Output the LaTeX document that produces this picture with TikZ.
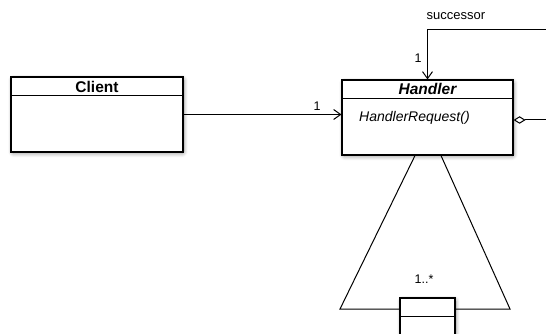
\documentclass[tikz,border=0pt]{standalone}
\usepackage{fontspec}
\setmainfont{Liberation Sans}
\usetikzlibrary{arrows.meta,calc,shadows.blur}

\tikzset{
  umlshadow/.style={blur shadow={shadow xshift=1pt, shadow yshift=-1.5pt,
      shadow blur steps=8, shadow blur extra rounding=2pt, shadow blur radius=4pt,
      shadow opacity=40}},
  classbox/.style={draw=black, line width=1.1pt, fill=white, rectangle,
      inner sep=0pt, umlshadow},
  classname/.style={font=\fontsize{15.5}{18}\selectfont\bfseries, inner sep=0pt},
  opname/.style={font=\fontsize{14}{16}\selectfont\itshape, inner sep=0pt, anchor=west},
  mult/.style={font=\fontsize{12.5}{14}\selectfont, inner sep=0pt},
  assoc/.style={draw=black, line width=1pt, -{Straight Barb[length=7pt, width=10pt, line width=1pt]}},
  link/.style={draw=black, line width=1pt},
  aggregate/.style={draw=black, line width=1pt, {Diamond[open, length=12pt, width=7.5pt, line width=1pt]}-},
}

\begin{document}
\begin{tikzpicture}[x=1pt, y=-1pt]
  \useasboundingbox (0,0) rectangle (546,334);
  \clip (0,0) rectangle (546,334);

  % Client class
  \node[classbox, minimum width=172pt, minimum height=75pt] (client) at (97,114.5) {};
  \draw[line width=1.1pt] ($(client.north west)+(0,19)$) -- ($(client.north east)+(0,19)$);
  \node[classname] (clientname) at (97,87) {Client};

  % Handler class (abstract)
  \node[classbox, minimum width=171pt, minimum height=75pt] (handler) at (427.5,117.5) {};
  \draw[line width=1.1pt] ($(handler.north west)+(0,19)$) -- ($(handler.north east)+(0,19)$);
  \node[classname, font=\fontsize{15.5}{18}\selectfont\bfseries\itshape] (handlername) at (427.5,89) {Handler};
  \node[opname] (handlerop) at (359,118) {HandlerRequest()};

  % Concrete handler (cut by the lower edge)
  \node[classbox, minimum width=55pt, minimum height=40pt] (leaf) at (427.5,318) {};
  \draw[line width=1.1pt] ($(leaf.north west)+(0,19)$) -- ($(leaf.north east)+(0,19)$);

  % Client -> Handler association
  \draw[assoc] (client.east) -- (client.east -| handler.west);
  \node[mult] (m1) at (317,106.5) {1};

  % successor self-association
  \coordinate (succEnd) at (546,30);
  \draw[assoc] (succEnd) -| (handler.north);
  \node[mult, font=\fontsize{13}{15}\selectfont] (succlabel) at (456,16) {successor};
  \node[mult] (m2) at (418,58) {1};

  % aggregation diamond leaving to the right
  \coordinate (aggEnd) at (546,120);
  \draw[aggregate] (handler.east |- aggEnd) -- (aggEnd);

  % inheritance fan down to the concrete handler
  \coordinate (fanL) at (340,309);
  \coordinate (fanR) at (510,309);
  \draw[link, line join=miter] ($(handler.south)+(-12.5,0)$) -- (fanL) -- (fanL -| leaf.west);
  \draw[link, line join=miter] ($(handler.south)+(13.5,0)$) -- (fanR) -- (fanR -| leaf.east);
  \node[mult] (m3) at (424,279) {1..*};
\end{tikzpicture}
\end{document}
